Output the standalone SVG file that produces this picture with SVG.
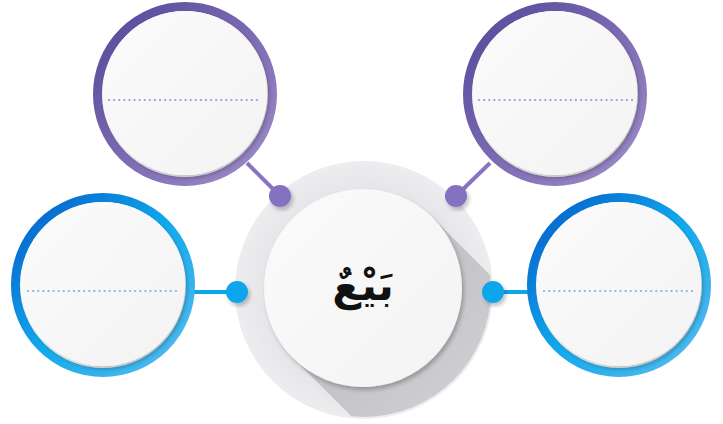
<svg xmlns="http://www.w3.org/2000/svg" width="723" height="424" viewBox="0 0 723 424">
<style>
.ring{fill:none;stroke-width:9}
.face{fill:url(#faceG)}
.dots{fill:none;stroke-width:2.2;stroke-dasharray:0.1 5;stroke-linecap:round}
.pl{stroke:#8874c0;stroke-width:4;fill:none}
.bl{stroke:#0aa6ea;stroke-width:4;fill:none}
.label{font-family:"DejaVu Sans",sans-serif;font-size:42px;font-weight:bold;fill:#111;text-anchor:middle}
</style>
<defs>
<linearGradient id="purG" x1="0" y1="0" x2="1" y2="1">
<stop offset="0" stop-color="#55479a"/>
<stop offset="1" stop-color="#a08dc9"/>
</linearGradient>
<linearGradient id="bluG" x1="0" y1="0" x2="1" y2="1">
<stop offset="0" stop-color="#0559c8"/>
<stop offset="0.5" stop-color="#10a9ec"/>
<stop offset="1" stop-color="#5bbdee"/>
</linearGradient>
<linearGradient id="faceG" x1="0" y1="0" x2="1" y2="1">
<stop offset="0" stop-color="#fbfbfb"/>
<stop offset="1" stop-color="#f3f3f4"/>
</linearGradient>
<linearGradient id="shadG" x1="0.35" y1="0.35" x2="1" y2="1">
<stop offset="0" stop-color="#c4c4c8"/>
<stop offset="1" stop-color="#e2e2e5"/>
</linearGradient>
<radialGradient id="outerG" cx="0.5" cy="0.5" r="0.5">
<stop offset="0.75" stop-color="#e4e5e8"/>
<stop offset="1" stop-color="#ededef"/>
</radialGradient>
<filter id="sh" x="-20%" y="-20%" width="140%" height="140%">
<feGaussianBlur in="SourceAlpha" stdDeviation="2"/>
<feOffset dx="2" dy="3" result="b"/>
<feComponentTransfer><feFuncA type="linear" slope="0.25"/></feComponentTransfer>
<feMerge><feMergeNode/><feMergeNode in="SourceGraphic"/></feMerge>
</filter>
<clipPath id="outerClip"><circle cx="364" cy="290" r="127"/></clipPath>
</defs>

<g id="center">
<circle cx="364" cy="290" r="129" fill="url(#outerG)"/>
<g clip-path="url(#outerClip)">
<path d="M 433 218 L 583 368 L 443 508 L 293 358 Z" fill="url(#shadG)"/>
</g>
<circle cx="363" cy="288" r="99" fill="url(#faceG)" filter="url(#sh)"/>
<text class="label" x="363" y="300">بَيْعٌ</text>
</g>

<g id="connectors">
<line class="pl" x1="247" y1="163" x2="280" y2="196"/>
<line class="pl" x1="490" y1="163" x2="456" y2="196"/>
<line class="bl" x1="190" y1="292" x2="237" y2="292"/>
<line class="bl" x1="493" y1="292" x2="532" y2="292"/>
<circle cx="280" cy="196" r="11" fill="#8472bf" filter="url(#sh)"/>
<circle cx="456" cy="196" r="11" fill="#8472bf" filter="url(#sh)"/>
<circle cx="237" cy="292" r="11" fill="#0aa6ea" filter="url(#sh)"/>
<circle cx="493" cy="292" r="11" fill="#0aa6ea" filter="url(#sh)"/>
</g>

<g id="node-top-left">
<circle cx="185" cy="94" r="87.5" class="ring" stroke="url(#purG)"/>
<circle cx="185" cy="93" r="82" class="face" filter="url(#sh)"/>
<line class="dots" x1="109" y1="100" x2="259" y2="100" stroke="#a796cf"/>
</g>

<g id="node-top-right">
<circle cx="555" cy="94" r="87.5" class="ring" stroke="url(#purG)"/>
<circle cx="555" cy="93" r="82" class="face" filter="url(#sh)"/>
<line class="dots" x1="479" y1="100" x2="633" y2="100" stroke="#a796cf"/>
</g>

<g id="node-left">
<circle cx="103" cy="285" r="87.5" class="ring" stroke="url(#bluG)"/>
<circle cx="103" cy="284" r="82" class="face" filter="url(#sh)"/>
<line class="dots" x1="28" y1="291" x2="178" y2="291" stroke="#7fb6e6"/>
</g>

<g id="node-right">
<circle cx="619" cy="285" r="87.5" class="ring" stroke="url(#bluG)"/>
<circle cx="619" cy="284" r="82" class="face" filter="url(#sh)"/>
<line class="dots" x1="544" y1="291" x2="694" y2="291" stroke="#7fb6e6"/>
</g>
</svg>
